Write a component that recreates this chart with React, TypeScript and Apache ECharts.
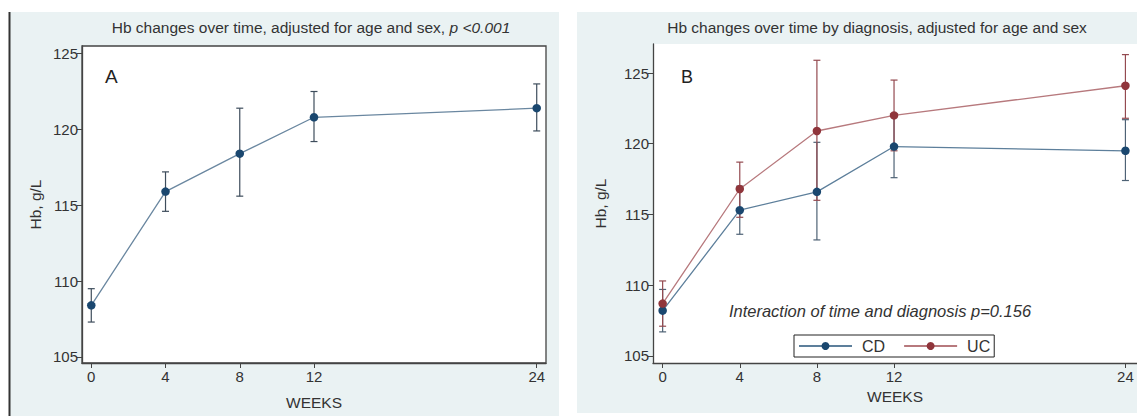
import React, { useEffect, useRef } from "react";
import * as echarts from "echarts";

const weeks = [0, 4, 8, 12, 24];
const weekTicks = [0, 4, 8, 12, 24];
const hbTicks = [105, 110, 115, 120, 125];

const hbAll = [108.4, 115.9, 118.4, 120.8, 121.4];
const hbAllLow = [107.3, 114.6, 115.6, 119.2, 119.9];
const hbAllHigh = [109.5, 117.2, 121.4, 122.5, 123.0];

const hbCD = [108.2, 115.3, 116.6, 119.8, 119.5];
const hbCDLow = [106.7, 113.6, 113.2, 117.6, 117.4];
const hbCDHigh = [109.7, 117.0, 120.1, 122.1, 121.7];

const hbUC = [108.7, 116.8, 120.9, 122.0, 124.1];
const hbUCLow = [107.1, 114.8, 116.0, 119.5, 121.8];
const hbUCHigh = [110.3, 118.7, 125.9, 124.5, 126.3];

const FONT = "'Liberation Sans', Arial, sans-serif";
const NAVY = "#1a476f";
const MAROON = "#90353b";

function errorSeries(name: string, xIdx: number, lows: number[], highs: number[], color: string) {
  return {
    type: "custom",
    name,
    xAxisIndex: xIdx,
    yAxisIndex: xIdx,
    data: weeks.map((w, i) => [w, lows[i], highs[i]]),
    encode: { x: 0, y: [1, 2] },
    silent: true,
    renderItem: (params: any, api: any) => {
      const x = api.value(0);
      const lo = api.coord([x, api.value(1)]);
      const hi = api.coord([x, api.value(2)]);
      const cw = 3.5;
      const st = { stroke: color, lineWidth: 1.2 };
      return {
        type: "group",
        children: [
          { type: "line", shape: { x1: lo[0], y1: lo[1], x2: hi[0], y2: hi[1] }, style: st },
          { type: "line", shape: { x1: lo[0] - cw, y1: lo[1], x2: lo[0] + cw, y2: lo[1] }, style: st },
          { type: "line", shape: { x1: hi[0] - cw, y1: hi[1], x2: hi[0] + cw, y2: hi[1] }, style: st },
        ],
      };
    },
    z: 2,
  };
}

function lineSeries(name: string, idx: number, vals: number[], lineColor: string, dotColor: string) {
  return {
    type: "line",
    name,
    xAxisIndex: idx,
    yAxisIndex: idx,
    data: weeks.map((w, i) => [w, vals[i]]),
    symbol: "circle",
    symbolSize: 8.5,
    lineStyle: { color: lineColor, width: 1.3 },
    itemStyle: { color: dotColor },
    z: 3,
  };
}

const axisText = { color: "#333", fontFamily: FONT, fontSize: 15 };

function xAxisDef(gridIndex: number, min: number, max: number, nameGap: number) {
  return {
    type: "value",
    gridIndex,
    min,
    max,
    name: "WEEKS",
    nameLocation: "middle",
    nameGap,
    nameTextStyle: { color: "#333", fontFamily: FONT, fontSize: 15.5 },
    axisLine: { show: true, onZero: false, lineStyle: { color: "#444", width: 1.3 } },
    axisTick: { show: true, customValues: weekTicks, length: 5, lineStyle: { color: "#444" } },
    axisLabel: { customValues: weekTicks, margin: 6, ...axisText },
    splitLine: { show: false },
  };
}

function yAxisDef(gridIndex: number, min: number, max: number, nameGap: number) {
  return {
    type: "value",
    gridIndex,
    min,
    max,
    name: "Hb, g/L",
    nameLocation: "middle",
    nameGap,
    nameTextStyle: { color: "#333", fontFamily: FONT, fontSize: 15.5 },
    axisLine: { show: true, onZero: false, lineStyle: { color: "#444", width: 1.3 } },
    axisTick: { show: true, customValues: hbTicks, length: 5, lineStyle: { color: "#444" } },
    axisLabel: { customValues: hbTicks, margin: 4, ...axisText },
    splitLine: { show: false },
  };
}

export default function App() {
  const ref = useRef<HTMLDivElement>(null);
  useEffect(() => {
    if (!ref.current) return;
    const chart = echarts.init(ref.current, null, { renderer: "svg" });
    chart.setOption({
      animation: false,
      backgroundColor: "#ffffff",
      textStyle: { fontFamily: FONT },
      title: [
        {
          text: "{n|Hb changes over time, adjusted for age and sex, }{i|p <0.001}",
          left: 311,
          top: 19,
          textAlign: "center",
          padding: 0,
          textStyle: {
            fontWeight: "normal",
            rich: {
              n: { fontFamily: FONT, fontSize: 15.5, color: "#333", fontWeight: "normal" },
              i: { fontFamily: FONT, fontSize: 15.5, color: "#333", fontStyle: "italic", fontWeight: "normal" },
            },
          },
        },
        {
          text: "Hb changes over time by diagnosis, adjusted for age and sex",
          left: 877,
          top: 19,
          textAlign: "center",
          padding: 0,
          textStyle: { fontFamily: FONT, fontSize: 15.5, color: "#333", fontWeight: "normal" },
        },
      ],
      graphic: [
        { type: "rect", z: -5, shape: { x: 9, y: 12, width: 550, height: 404 }, style: { fill: "#eaf2f3" } },
        { type: "rect", z: -5, shape: { x: 577, y: 12, width: 560, height: 401 }, style: { fill: "#eaf2f3" } },
        { type: "line", z: -4, shape: { x1: 9.5, y1: 12, x2: 9.5, y2: 416 }, style: { stroke: "#333", lineWidth: 2 } },
        {
          type: "text",
          z: 10,
          style: { text: "A", x: 105, y: 76, fontSize: 19, fontFamily: FONT, fill: "#222", verticalAlign: "middle" },
        },
        {
          type: "text",
          z: 10,
          style: { text: "B", x: 681, y: 77, fontSize: 18, fontFamily: FONT, fill: "#222", verticalAlign: "middle" },
        },
        {
          type: "text",
          z: 10,
          style: {
            text: "Interaction of time and diagnosis p=0.156",
            x: 880,
            y: 311,
            fontSize: 16.5,
            fontStyle: "italic",
            fontFamily: FONT,
            fill: "#333",
            align: "center",
            verticalAlign: "middle",
          },
        },
      ],
      grid: [
        {
          left: 82,
          top: 46,
          width: 464,
          height: 317,
          show: true,
          backgroundColor: "#ffffff",
          borderColor: "#444",
          borderWidth: 1.3,
        },
        {
          left: 653,
          top: 44,
          width: 484,
          height: 319,
          show: true,
          backgroundColor: "#ffffff",
          borderWidth: 0,
        },
      ],
      xAxis: [xAxisDef(0, -0.5, 24.5, 31), xAxisDef(1, -0.5, 24.6, 23)],
      yAxis: [yAxisDef(0, 104.6, 125.5, 39), yAxisDef(1, 104.5, 127.05, 45)],
      legend: {
        data: ["CD", "UC"],
        left: 794,
        top: 335,
        orient: "horizontal",
        itemWidth: 53,
        itemHeight: 10,
        itemGap: 18,
        padding: [3, 4, 3, 4],
        backgroundColor: "#ffffff",
        borderColor: "#222",
        borderWidth: 1,
        borderRadius: 0,
        textStyle: { color: "#333", fontFamily: FONT, fontSize: 16, padding: [0, 0, 0, 5] },
        selectedMode: false,
      },
      series: [
        errorSeries("errAll", 0, hbAllLow, hbAllHigh, "#3e4d5c"),
        lineSeries("Overall", 0, hbAll, "#6a87a0", NAVY),
        errorSeries("errCD", 1, hbCDLow, hbCDHigh, "#4e6275"),
        errorSeries("errUC", 1, hbUCLow, hbUCHigh, "#944a50"),
        lineSeries("CD", 1, hbCD, "#5d7f9b", NAVY),
        lineSeries("UC", 1, hbUC, "#b7797d", MAROON),
      ],
    });
    return () => chart.dispose();
  }, []);
  return <div ref={ref} style={{ position: "absolute", left: 0, top: 0, width: 1137, height: 416 }} />;
}
